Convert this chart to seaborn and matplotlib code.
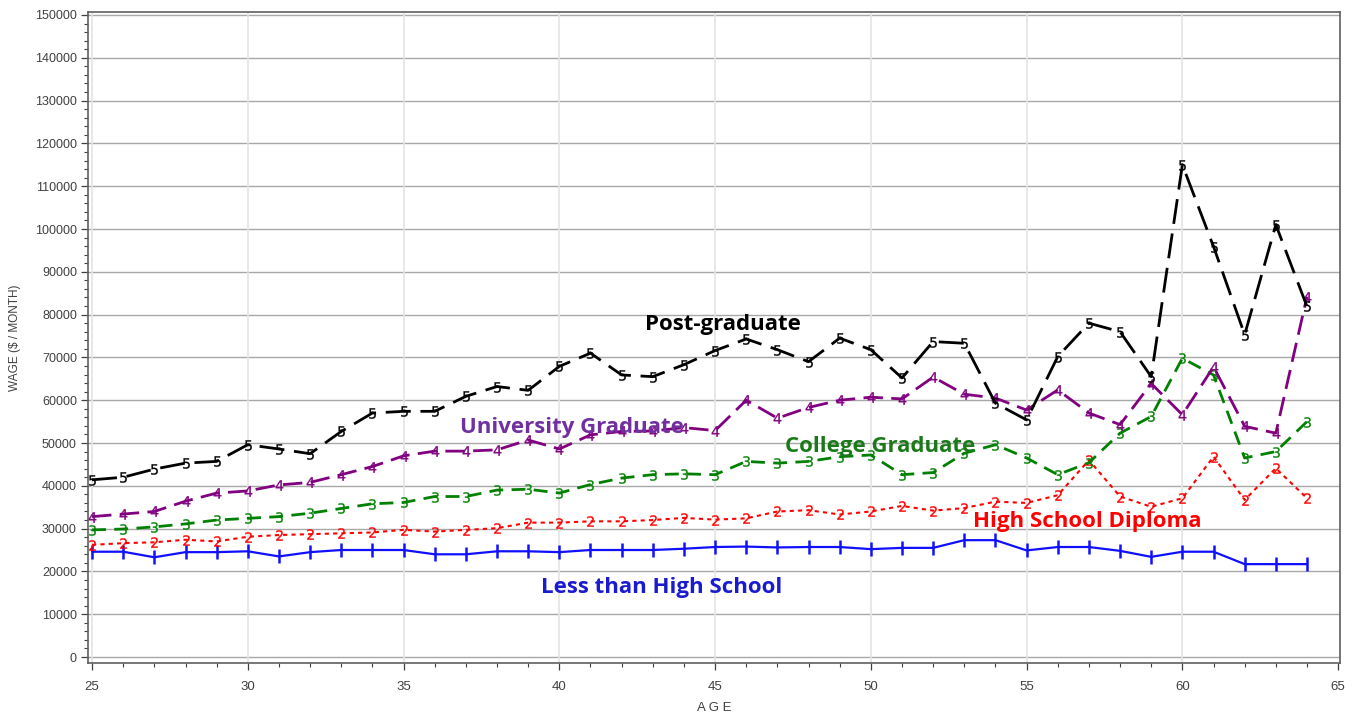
import matplotlib
matplotlib.use("Agg")
import matplotlib.pyplot as plt
import seaborn as sns
import numpy as np
import pandas as pd
from matplotlib.ticker import MultipleLocator

ages = list(range(25, 65))

less_than_hs = [24600, 24600, 23300, 24500, 24500, 24700, 23500, 24500, 25000, 25000,
                25000, 24000, 24000, 24700, 24700, 24500, 25000, 25000, 25000, 25300,
                25700, 25800, 25600, 25700, 25700, 25200, 25500, 25500, 27300, 27300,
                24900, 25700, 25700, 24800, 23400, 24600, 24600, 21700, 21700, 21700]
high_school = [26200, 26600, 26800, 27400, 27000, 28100, 28500, 28700, 28900, 29100,
               29700, 29300, 29700, 30100, 31400, 31400, 31700, 31700, 32000, 32500,
               32100, 32400, 34000, 34300, 33300, 34000, 35300, 34200, 34800, 36300,
               36000, 37800, 46000, 37500, 35100, 37100, 46800, 36700, 44100, 37100]
college = [29700, 29900, 30400, 31100, 32000, 32400, 32800, 33600, 34700, 35800,
           36100, 37500, 37500, 39000, 39200, 38300, 40300, 41800, 42600, 42800,
           42600, 45700, 45300, 45700, 46800, 47200, 42600, 43100, 47600, 49600,
           46500, 42600, 45400, 52300, 56200, 69800, 65900, 46500, 48000, 55000]
university = [32800, 33400, 34000, 36400, 38300, 38800, 40200, 40800, 42600, 44500,
              47000, 48100, 48100, 48400, 50700, 48600, 51900, 52700, 52800, 53600,
              52900, 60000, 55800, 58300, 60000, 60700, 60300, 65400, 61400, 60500,
              57700, 62400, 57000, 54300, 63900, 56600, 67800, 53900, 52300, 84200]
postgrad = [41400, 42000, 43900, 45300, 45700, 49600, 48600, 47500, 52700, 57000,
            57400, 57400, 60900, 63200, 62300, 67900, 71000, 65900, 65500, 68300,
            71600, 74300, 71800, 69000, 74500, 71800, 65200, 73700, 73300, 59300,
            55400, 70200, 78000, 76000, 65500, 115000, 95900, 75300, 101000, 81900]

series_labels = ["Less than High School", "High School Diploma", "College Graduate",
                 "University Graduate", "Post-graduate"]

df = pd.DataFrame({"AGE": ages * 5,
                   "WAGE": less_than_hs + high_school + college + university + postgrad,
                   "group": sum([[s] * len(ages) for s in series_labels], [])})

sns.set_theme(style="white")
plt.rcParams['font.family'] = ['Liberation Sans', 'DejaVu Sans']

fig = plt.figure(figsize=(13.53, 7.17), dpi=100)
ax = fig.add_axes([88 / 1353, 1 - 663 / 717, (1340 - 88) / 1353, (663 - 12) / 717])

styles = {
    "Less than High School": dict(color="#1010ff", marker="|", ms=10, mew=1.8, dashes=None, lw=1.6),
    "High School Diploma": dict(color="#ff0000", marker="$2$", ms=7.5, mew=0.2, dashes=(2.0, 2.0), lw=1.5),
    "College Graduate": dict(color="#008000", marker="$3$", ms=7.5, mew=0.2, dashes=(5.0, 3.0), lw=2.0),
    "University Graduate": dict(color="#800080", marker="$4$", ms=7.5, mew=0.2, dashes=(7.0, 3.0), lw=2.0),
    "Post-graduate": dict(color="#000000", marker="$5$", ms=7.5, mew=0.2, dashes=(9.0, 3.5), lw=2.0),
}

for name in series_labels:
    st = styles[name]
    sub = df[df["group"] == name]
    n_before = len(ax.lines)
    sns.lineplot(data=sub, x="AGE", y="WAGE", ax=ax, color=st["color"], lw=st["lw"],
                 marker=st["marker"], markersize=st["ms"], markeredgewidth=st["mew"],
                 markeredgecolor=st["color"], markerfacecolor=st["color"], legend=False)
    line = ax.lines[n_before]
    if st["dashes"] is not None:
        line.set_dashes(st["dashes"])

ax.set_xlim(24.87, 65.06)
ax.set_ylim(-1400, 150700)
ax.xaxis.set_major_locator(MultipleLocator(5))
ax.xaxis.set_minor_locator(MultipleLocator(1))
ax.yaxis.set_major_locator(MultipleLocator(10000))
ax.yaxis.set_minor_locator(MultipleLocator(2000))

ax.grid(False)
for v in range(0, 150001, 10000):
    ax.axhline(v, color="#a8a8a8", lw=1.0, zorder=0)
for a in range(25, 65, 5):
    ax.axvline(a, color="#e4e4e4", lw=1.2, zorder=0)

for sp in ax.spines.values():
    sp.set_color("#606060")
    sp.set_linewidth(1.2)

ax.tick_params(axis="both", which="major", direction="out", length=5, width=0.9,
               color="#404040", labelcolor="#404040", bottom=True, left=True)
ax.tick_params(axis="both", which="minor", direction="out", length=3, width=0.8,
               color="#404040", bottom=True, left=True)
ax.tick_params(axis="y", labelsize=9, pad=3)
ax.tick_params(axis="x", labelsize=9.5, pad=8)
for lab in ax.get_xticklabels():
    lab.set_family(['Liberation Sans Narrow', 'Liberation Sans', 'DejaVu Sans'])

ax.set_xlabel("A G E", fontsize=9.5, color="#404040")
ax.xaxis.set_label_coords(0.5, -0.069)
ax.xaxis.label.set_va("center")
ax.set_ylabel("WAGE ($ / MONTH)", fontsize=8.5, color="#404040",
              family=['Liberation Sans Narrow', 'Liberation Sans', 'DejaVu Sans'])
ax.yaxis.set_label_coords(-0.058, 0.5)
ax.yaxis.label.set_va("center")

lab_font = ['Open Sans', 'DejaVu Sans']
ax.text(45.26, 77800, "Post-graduate", color="#000000", fontsize=16, fontweight="bold",
        ha="center", va="center", family=lab_font)
ax.text(40.41, 53730, "University Graduate", color="#7030a0", fontsize=16, fontweight="bold",
        ha="center", va="center", family=lab_font)
ax.text(50.3, 49290, "College Graduate", color="#1a7a1a", fontsize=16, fontweight="bold",
        ha="center", va="center", family=lab_font)
ax.text(56.94, 31770, "High School Diploma", color="#ff0000", fontsize=16, fontweight="bold",
        ha="center", va="center", family=lab_font)
ax.text(43.27, 16350, "Less than High School", color="#1a1ad0", fontsize=16, fontweight="bold",
        ha="center", va="center", family=lab_font)

fig.savefig("out.png", dpi=100, facecolor="white")
